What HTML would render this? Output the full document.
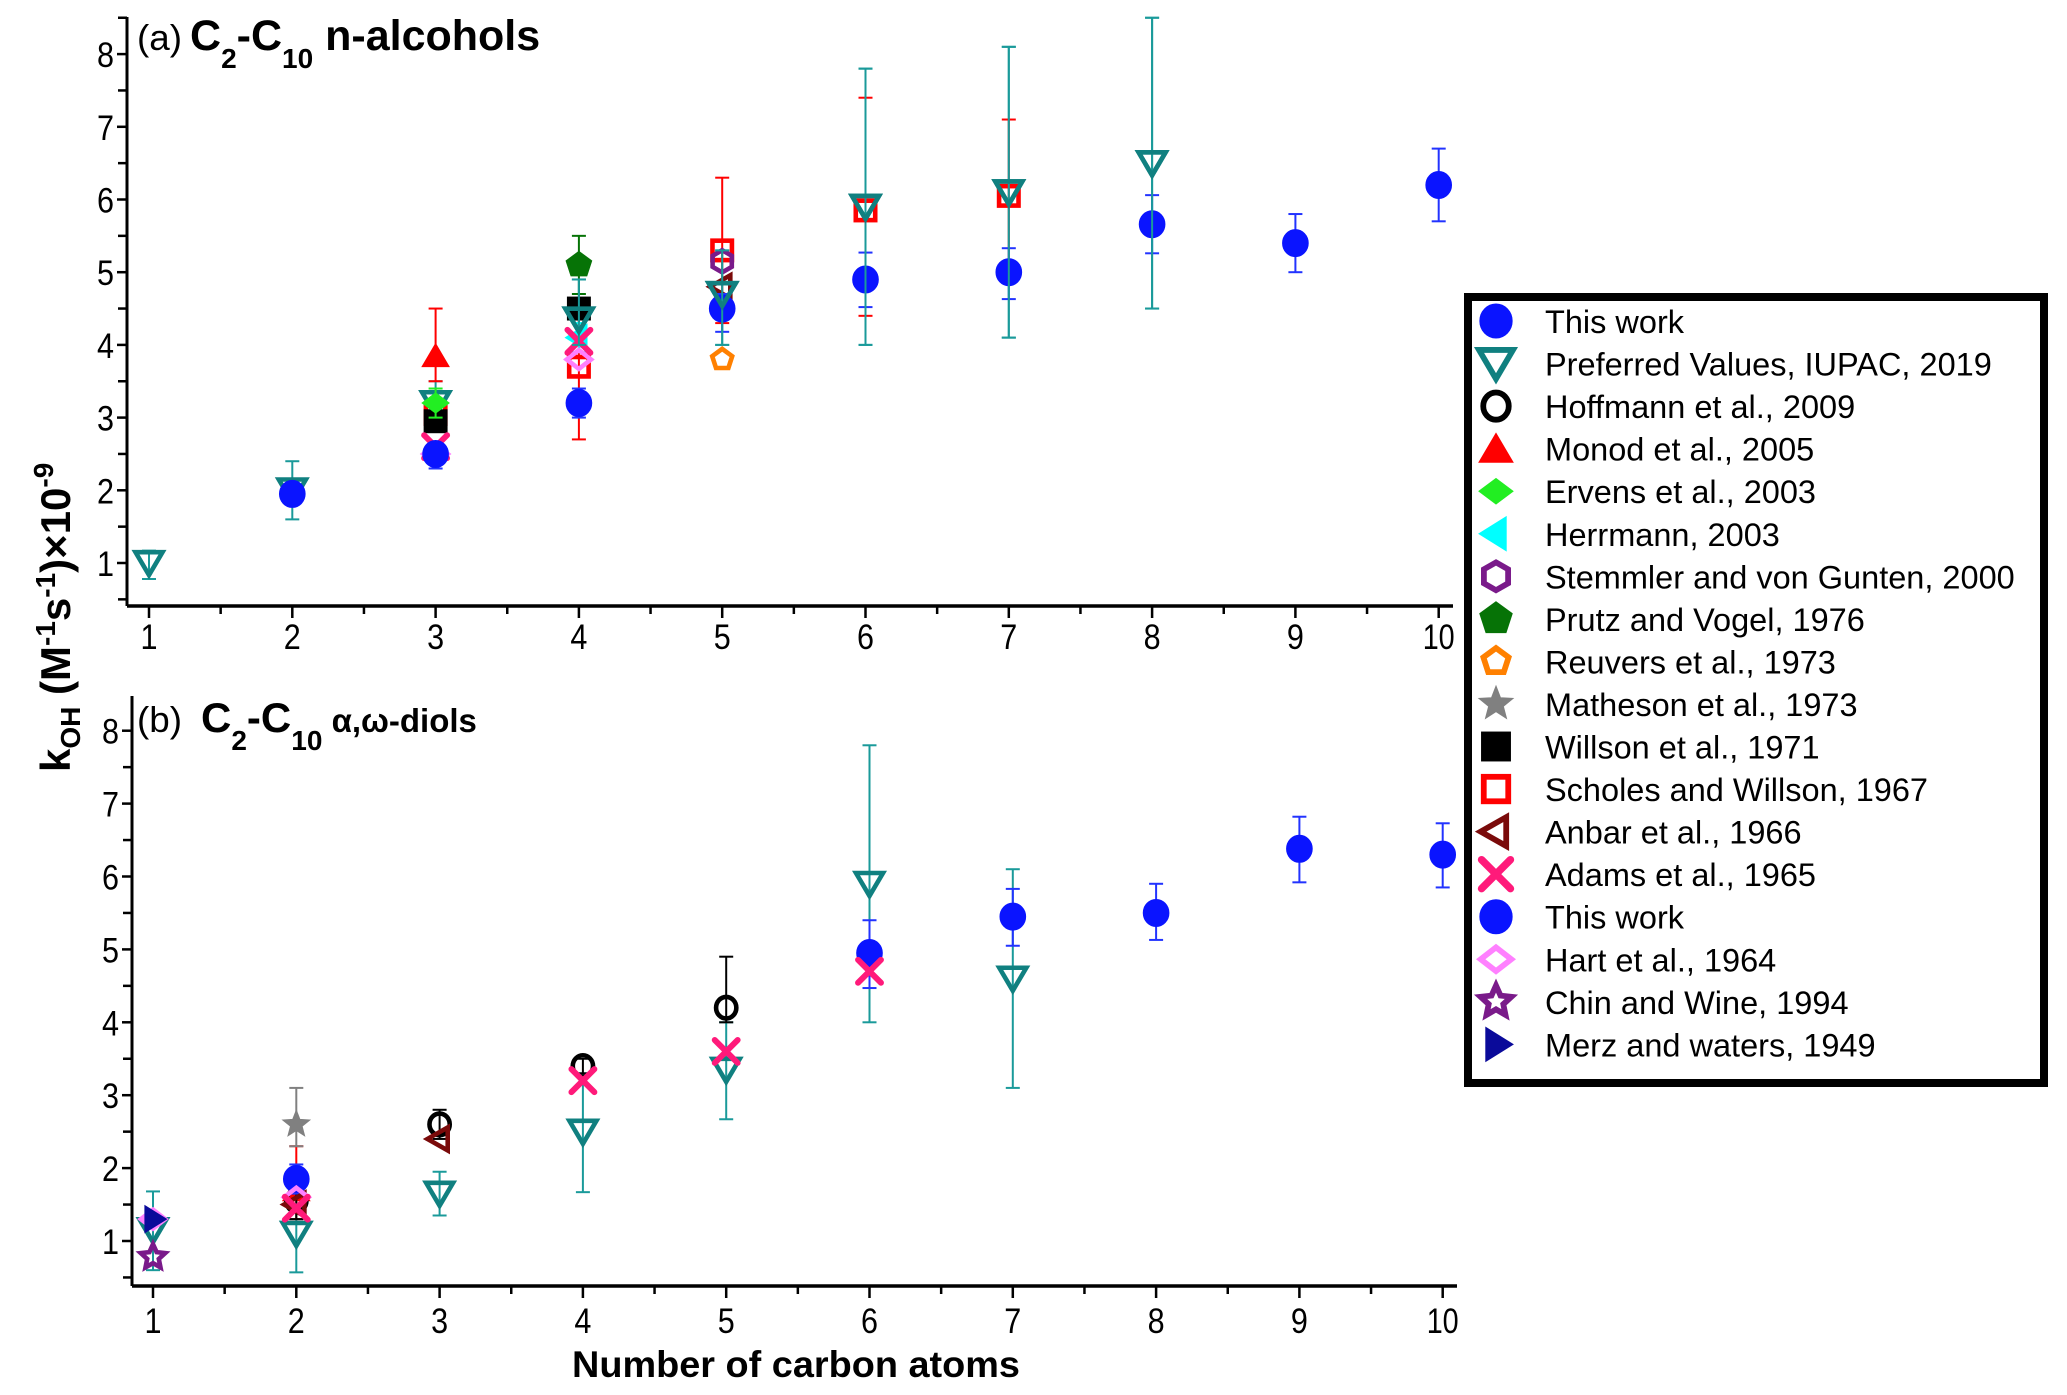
<!DOCTYPE html>
<html><head><meta charset="utf-8"><style>
html,body{margin:0;padding:0;background:#fff}
svg{display:block}
text{font-family:"Liberation Sans",Arial,sans-serif}
</style></head><body>
<svg id="chart" width="2067" height="1395" viewBox="0 0 2067 1395" xmlns="http://www.w3.org/2000/svg">
<g id="axes"></g><g id="marks"></g><g id="legend"></g>
</svg>
<script>
// ---- data ----
const carbonTicks = [1,2,3,4,5,6,7,8,9,10];
const yTicks = [1,2,3,4,5,6,7,8];
// Panel (a) n-alcohols: [carbon, value, errLow, errHigh]
const aThisWork = [[2,1.95,1.85,2.05],[3,2.5,2.3,2.65],[4,3.2,3.0,3.4],[5,4.5,4.18,4.7],[6,4.9,4.52,5.27],[7,5.0,4.63,5.33],[8,5.66,5.26,6.06],[9,5.4,5.0,5.8],[10,6.2,5.7,6.7]];
const aIupac = [[1,1.0,0.78,1.17],[2,2.0,1.6,2.4],[3,3.2,3.0,3.5],[4,4.35,4.0,4.9],[5,4.7,4.0,5.3],[6,5.9,4.0,7.8],[7,6.1,4.1,8.1],[8,6.5,4.5,8.5]];
const aMonod = [[3,3.85,3.5,4.5]];
const aErvens = [[3,3.2,3.0,3.4]];
const aHerrmann = [[4,4.1,3.9,4.3]];
const aStemmler = [[5,5.15,null,null]];
const aPrutz = [[4,5.1,4.7,5.5]];
const aReuvers = [[5,3.8,null,null]];
const aWillson = [[3,2.95,null,null],[4,4.5,4.0,4.6]];
const aScholes = [[3,3.05,null,null],[4,3.7,2.7,4.6],[5,5.3,4.3,6.3],[6,5.85,4.4,7.4],[7,6.05,5.1,7.1]];
const aAnbar = [[5,4.8,null,null]];
const aAdams = [[3,2.6,null,null],[4,4.05,null,null]];
const aHart = [[3,2.5,null,null],[4,3.8,null,null]];
// Panel (b) diols
const bThisWork = [[2,1.85,1.65,2.05],[6,4.95,4.47,5.4],[7,5.45,5.05,5.83],[8,5.5,5.13,5.9],[9,6.38,5.92,6.82],[10,6.3,5.85,6.73]];
const bIupac = [[1,1.15,0.6,1.68],[2,1.1,0.57,1.5],[3,1.65,1.35,1.95],[4,2.5,1.67,3.3],[5,3.35,2.67,4.0],[6,5.9,4.0,7.8],[7,4.6,3.1,6.1]];
const bHoffmann = [[2,1.55,1.3,1.7],[3,2.6,2.4,2.8],[4,3.4,3.3,3.5],[5,4.2,4.0,4.9]];
const bMonod = [[2,1.7,1.3,2.3]];
const bMatheson = [[2,2.6,2.3,3.1]];
const bAnbar = [[2,1.5,null,null],[3,2.4,null,null]];
const bAdams = [[2,1.45,null,null],[4,3.2,null,null],[5,3.6,null,null],[6,4.7,null,null]];
const bHart = [[1,1.3,null,null],[2,1.6,null,null]];
const bChin = [[1,0.78,null,null]];
const bMerz = [[1,1.3,null,null]];
const legendLabels = ["This work","Preferred Values, IUPAC, 2019","Hoffmann et al., 2009","Monod et al., 2005","Ervens et al., 2003","Herrmann, 2003","Stemmler and von Gunten, 2000","Prutz and Vogel, 1976","Reuvers et al., 1973","Matheson et al., 1973","Willson et al., 1971","Scholes and Willson, 1967","Anbar et al., 1966","Adams et al., 1965","This work","Hart et al., 1964","Chin and Wine, 1994","Merz and waters, 1949"];

const NS="http://www.w3.org/2000/svg";
const axesG=document.getElementById('axes'),marksG=document.getElementById('marks'),legG=document.getElementById('legend');
function el(tag,attrs,parent){const e=document.createElementNS(NS,tag);for(const k in attrs)e.setAttribute(k,attrs[k]);parent.appendChild(e);return e;}

const panels={
 a:{x0:149,dx:143.3,y1:563,dy:72.7,axX:127,axY:606,top:17,right:1453,lblY:649},
 b:{x0:153,dx:143.3,y1:1241,dy:72.9,axX:132,axY:1286,top:696,right:1457,lblY:1333}
};
function X(p,n){return p.x0+(n-1)*p.dx;}
function Y(p,v){return p.y1-(v-1)*p.dy;}

// axes
for(const key of ['a','b']){
 const p=panels[key];
 const ax=el('g',{},axesG);
 
 
 el('line',{x1:p.axX,y1:p.top,x2:p.axX,y2:p.axY,stroke:'#000','stroke-width':3},ax);
 el('line',{x1:p.axX,y1:p.axY,x2:p.right,y2:p.axY,stroke:'#000','stroke-width':3.5},ax);
 for(let v=0.5;v<=8.5;v+=0.5){const y=Y(p,v);if(y<p.top-1||y>p.axY)continue;
  const major=Number.isInteger(v);
  el('line',{x1:p.axX-(major?10:9),y1:y,x2:p.axX,y2:y,stroke:'#000','stroke-width':2.5},ax);}
 for(const t of yTicks){const tx=el('text',{x:p.axX-13,y:Y(p,t)+13,'font-size':35,'text-anchor':'end',fill:'#000',textLength:17,lengthAdjust:'spacingAndGlyphs'},ax);tx.textContent=t;
  
  }
 for(let n=1;n<=10.01;n+=0.5){const x=X(p,n);const major=Number.isInteger(n);
  el('line',{x1:x,y1:p.axY,x2:x,y2:p.axY+(major?12:8),stroke:'#000','stroke-width':2.5},ax);}
 for(const t of carbonTicks){const tx=el('text',{x:X(p,t),y:p.lblY,'font-size':35,'text-anchor':'middle',fill:'#000',textLength:t>9?32:17,lengthAdjust:'spacingAndGlyphs'},ax);tx.textContent=t;
  
  }
}

// marker drawing
function star(cx,cy,r,ri){let pts=[];for(let i=0;i<10;i++){const a=-Math.PI/2+i*Math.PI/5;const rr=i%2?ri:r;pts.push((cx+rr*Math.cos(a)).toFixed(1)+','+(cy+rr*Math.sin(a)).toFixed(1));}return pts.join(' ');}
function poly(cx,cy,r,n,rot){let pts=[];for(let i=0;i<n;i++){const a=rot+i*2*Math.PI/n;pts.push((cx+r*Math.cos(a)).toFixed(1)+','+(cy+r*Math.sin(a)).toFixed(1));}return pts.join(' ');}
function marker(g,type,cx,cy,s,color){
 const h=s/2;const fillS={fill:color,stroke:color,'stroke-width':1};const hol={fill:'none',stroke:color,'stroke-width':s*0.17};
 switch(type){
  case 'circle':return el('ellipse',Object.assign({cx,cy,rx:h*0.95,ry:h},fillS),g);
  case 'hcircle':return el('ellipse',Object.assign({cx,cy,rx:h*0.75,ry:h*0.8},hol),g);
  case 'down':return el('polygon',Object.assign({points:`${cx-h},${cy-h*0.8} ${cx+h},${cy-h*0.8} ${cx},${cy+h*0.9}`},hol),g);
  case 'up':return el('polygon',Object.assign({points:`${cx-h},${cy+h*0.8} ${cx+h},${cy+h*0.8} ${cx},${cy-h*0.9}`},fillS),g);
  case 'diamond':return el('polygon',Object.assign({points:`${cx-h},${cy} ${cx},${cy-h*0.75} ${cx+h},${cy} ${cx},${cy+h*0.75}`},fillS),g);
  case 'hdiamond':return el('polygon',Object.assign({points:`${cx-h*0.9},${cy} ${cx},${cy-h*0.7} ${cx+h*0.9},${cy} ${cx},${cy+h*0.7}`},hol),g);
  case 'left':return el('polygon',Object.assign({points:`${cx+h*0.6},${cy-h} ${cx+h*0.6},${cy+h} ${cx-h},${cy}`},fillS),g);
  case 'hleft':return el('polygon',Object.assign({points:`${cx+h*0.6},${cy-h*0.85} ${cx+h*0.6},${cy+h*0.85} ${cx-h*0.9},${cy}`},hol),g);
  case 'right':return el('polygon',Object.assign({points:`${cx-h*0.6},${cy-h} ${cx-h*0.6},${cy+h} ${cx+h},${cy}`},fillS),g);
  case 'hex':return el('polygon',Object.assign({points:poly(cx,cy,h*0.82,6,-Math.PI/2)},hol),g);
  case 'pent':return el('polygon',Object.assign({points:poly(cx,cy,h,5,-Math.PI/2)},fillS),g);
  case 'hpent':return el('polygon',Object.assign({points:poly(cx,cy,h*0.78,5,-Math.PI/2)},hol),g);
  case 'star':return el('polygon',Object.assign({points:star(cx,cy,h*1.05,h*0.45)},fillS),g);
  case 'hstar':return el('polygon',Object.assign({points:star(cx,cy,h*0.95,h*0.45)},hol),g);
  case 'square':return el('rect',Object.assign({x:cx-h*0.85,y:cy-h*0.85,width:h*1.7,height:h*1.7},fillS),g);
  case 'hsquare':return el('rect',Object.assign({x:cx-h*0.72,y:cy-h*0.72,width:h*1.44,height:h*1.44},hol),g);
  case 'x':{const gg=el('g',{stroke:color,'stroke-width':s*0.22,'stroke-linecap':'round'},g);
   el('line',{x1:cx-h*0.85,y1:cy-h*0.85,x2:cx+h*0.85,y2:cy+h*0.85},gg);el('line',{x1:cx-h*0.85,y1:cy+h*0.85,x2:cx+h*0.85,y2:cy-h*0.85},gg);return gg;}
 }
}
function series(key,name,data,type,color,ecolor){
 const p=panels[key];
 const g=el('g',{},marksG);
 
 
 for(const d of data){
  const x=X(p,d[0]);
  if(d[2]!==null){const ylo=Y(p,d[2]),yhi=Y(p,d[3]);
   const eb=el('g',{stroke:ecolor||color,'stroke-width':2},g);
   
   
   el('line',{x1:x,y1:ylo,x2:x,y2:yhi},eb);
   el('line',{x1:x-7,y1:ylo,x2:x+7,y2:ylo},eb);el('line',{x1:x-7,y1:yhi,x2:x+7,y2:yhi},eb);}
 }
 for(const d of data){const m=marker(g,type,X(p,d[0]),Y(p,d[1]),27,color);
  
  }
}
series('a','iupac',aIupac,'down','#108080','#1a9a9a');
series('a','scholes',aScholes,'hsquare','#ff0000','#ff0000');
series('a','monod',aMonod,'up','#ff0000');
series('a','willson',aWillson,'square','#000000','#000');
series('a','prutz',aPrutz,'pent','#067306','#067306');
series('a','ervens',aErvens,'diamond','#22ee22');
series('a','herrmann',aHerrmann,'left','#00ffff');
series('a','hart',aHart,'hdiamond','#ff80ff');
series('a','adams',aAdams,'x','#ff1a7a');
series('a','stemmler',aStemmler,'hex','#7a1a8a');
series('a','anbar',aAnbar,'hleft','#7a0a0a');
series('a','reuvers',aReuvers,'hpent','#ff8000');
series('a','this-work',aThisWork,'circle','#0a14ff','#2233ff');
series('a','iupac-top',aIupac.filter(d=>d[0]>=4),'down','#108080','#1a9a9a');

series('b','iupac',bIupac,'down','#108080','#1a9a9a');
series('b','monod',bMonod,'up','#ff0000','#ff0000');
series('b','matheson',bMatheson,'star','#808080','#808080');
series('b','hoffmann',bHoffmann,'hcircle','#000000','#000');
series('b','this-work',bThisWork,'circle','#0a14ff','#2233ff');
series('b','anbar',bAnbar,'hleft','#7a0a0a');
series('b','hart',bHart,'hdiamond','#ff80ff');
series('b','adams',bAdams,'x','#ff1a7a');
series('b','chin',bChin,'hstar','#7a1a8a');
series('b','merz',bMerz,'right','#0a0a9a');

// legend
const legTypes=['circle','down','hcircle','up','diamond','left','hex','pent','hpent','star','square','hsquare','hleft','x','circle','hdiamond','hstar','right'];
const legColors=['#0a14ff','#108080','#000000','#ff0000','#22ee22','#00ffff','#7a1a8a','#067306','#ff8000','#808080','#000000','#ff0000','#7a0a0a','#ff1a7a','#0a14ff','#ff80ff','#7a1a8a','#0a0a9a'];
const box=el('rect',{x:1468,y:297,width:576,height:786,fill:'#fff',stroke:'#000','stroke-width':8},legG);


legendLabels.forEach((lab,i)=>{
 const y=321+i*42.55;
 const g=el('g',{},legG);
 
 
 marker(g,legTypes[i],1496,y,34,legColors[i]);
 const t=el('text',{x:1545,y:y+12,'font-size':32.5,fill:'#000'},g);t.textContent=lab;
});

// titles
function txt(parent,attrs,content,name){const t=el('text',attrs,parent);t.innerHTML=content;return t;}
txt(axesG,{x:137,y:50,'font-size':36,textLength:45,lengthAdjust:'spacingAndGlyphs'},'(a)','panel-a-label');
txt(axesG,{x:190,y:50,'font-size':43,'font-weight':'bold'},'C<tspan font-size="28" dy="18">2</tspan><tspan dy="-18">-C</tspan><tspan font-size="28" dy="18">10</tspan><tspan dy="-18"> n-alcohols</tspan>','panel-a-title');
txt(axesG,{x:137,y:732,'font-size':36,textLength:45,lengthAdjust:'spacingAndGlyphs'},'(b)','panel-b-label');
txt(axesG,{x:201,y:732,'font-size':42,'font-weight':'bold'},'C<tspan font-size="28" dy="18">2</tspan><tspan dy="-18">-C</tspan><tspan font-size="28" dy="18">10</tspan><tspan dy="-18" font-size="33"> α,ω-diols</tspan>','panel-b-title');
txt(axesG,{x:796,y:1377,'font-size':37,'font-weight':'bold','text-anchor':'middle',textLength:448,lengthAdjust:'spacingAndGlyphs'},'Number of carbon atoms','x-axis-title');
txt(axesG,{x:0,y:0,'font-size':42,'font-weight':'bold',transform:'translate(70,772) rotate(-90)'},'k<tspan font-size="28" dy="10">OH</tspan><tspan dy="-10"> (M</tspan><tspan font-size="28" dy="-15">-1</tspan><tspan dy="15">s</tspan><tspan font-size="28" dy="-15">-1</tspan><tspan dy="15">)×10</tspan><tspan font-size="28" dy="-17">-9</tspan>','y-axis-title');
</script>
</body></html>
